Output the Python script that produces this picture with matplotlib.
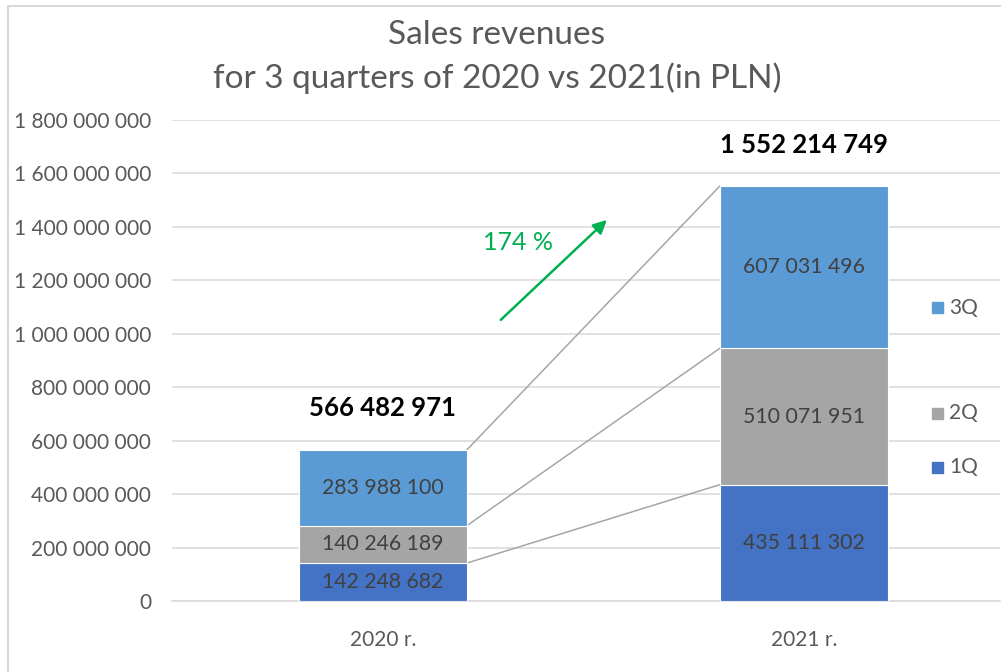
import matplotlib
matplotlib.use("Agg")
import matplotlib.pyplot as plt
import numpy as np
from matplotlib.patches import Rectangle
from matplotlib.ticker import FuncFormatter

plt.rcParams['font.family'] = ['Lato', 'DejaVu Sans']

years = ['2020 r.', '2021 r.']
quarters = ['1Q', '2Q', '3Q']
q1 = [142248682, 435111302]
q2 = [140246189, 510071951]
q3 = [283988100, 607031496]
colors = ['#4472C4', '#A5A5A5', '#5B9BD5']
growth_label = '174 %'

TEXT = '#595959'


def fmt_space(v):
    return f'{int(round(v)):,}'.replace(',', ' ')


fig = plt.figure(figsize=(10.01, 6.72), dpi=100)
ax = fig.add_axes([172 / 1001, 1 - 601 / 672, 828 / 1001, 481 / 672])

x = np.arange(len(years))
width = 0.4
series = [q1, q2, q3]
bottom = np.zeros(len(years))
tops = []
for vals, col in zip(series, colors):
    vals = np.array(vals, dtype=float)
    ax.bar(x, vals, width, bottom=bottom, color=col, edgecolor='white',
           linewidth=0.8, zorder=3)
    for xi, v, b in zip(x, vals, bottom):
        ax.text(xi, b + v / 2, fmt_space(v), ha='center', va='center',
                fontsize=15.3, color='#404040', zorder=4)
    bottom = bottom + vals
    tops.append(bottom.copy())

# series lines connecting the segment tops
for t in tops:
    ax.plot([x[0] + width / 2, x[1] - width / 2], [t[0], t[1]],
            color='#A6A6A6', linewidth=1.1, zorder=2)

# totals
for xi, tot in zip(x, bottom):
    ax.annotate(fmt_space(tot), (xi, tot), xytext=(0, 30),
                textcoords='offset points', ha='center', va='center',
                fontsize=18.5, fontweight='bold', color='black')

# growth arrow
ax.annotate('', xy=(0.532, 1.426e9), xytext=(0.280, 1.052e9),
            arrowprops=dict(arrowstyle='-|>', color='#00B050', lw=1.8,
                            mutation_scale=20, shrinkA=0, shrinkB=0))
ax.text(0.321, 1.34e9, growth_label, ha='center', va='center',
        fontsize=18, color='#00B050')

ax.set_xlim(-0.501, 1.466)
ax.set_ylim(0, 1.8e9)
ax.set_yticks(np.arange(0, 1.8e9 + 1, 2e8))
ax.yaxis.set_major_formatter(FuncFormatter(lambda v, p: fmt_space(v)))
ax.set_xticks(x)
ax.set_xticklabels(years)
ax.tick_params(axis='both', length=0, labelsize=15, colors=TEXT)
ax.tick_params(axis='x', pad=21)
ax.tick_params(axis='y', pad=15)
ax.grid(axis='y', color='#D9D9D9', linewidth=1.1, zorder=0)
for s in ['top', 'right', 'left']:
    ax.spines[s].set_visible(False)
ax.spines['bottom'].set_color('#D9D9D9')
ax.spines['bottom'].set_linewidth(1.1)
ax.set_axisbelow(True)

# legend entries (placed individually as in the source)
legend_y = {'3Q': 308, '2Q': 413, '1Q': 467}
for q, col in zip(quarters, colors):
    yy = 1 - legend_y[q] / 672
    fig.patches.append(Rectangle((932 / 1001, yy - 5.5 / 672), 11 / 1001, 11 / 672,
                                 transform=fig.transFigure, color=col))
    fig.text(949 / 1001, yy, q, ha='left', va='center', fontsize=15, color=TEXT)

# title
fig.text(497 / 1001, 1 - 35 / 672, 'Sales revenues', ha='center', va='center',
         fontsize=24, color=TEXT)
fig.text(497 / 1001, 1 - 78 / 672, 'for 3 quarters of 2020 vs 2021(in PLN)',
         ha='center', va='center', fontsize=24, color=TEXT)

# chart border
fig.patches.append(Rectangle((8 / 1001, -0.5), 2, 1.5 - 6 / 672, transform=fig.transFigure,
                             fill=False, edgecolor='#D9D9D9', linewidth=1.5))

fig.savefig('out.png', dpi=100)
